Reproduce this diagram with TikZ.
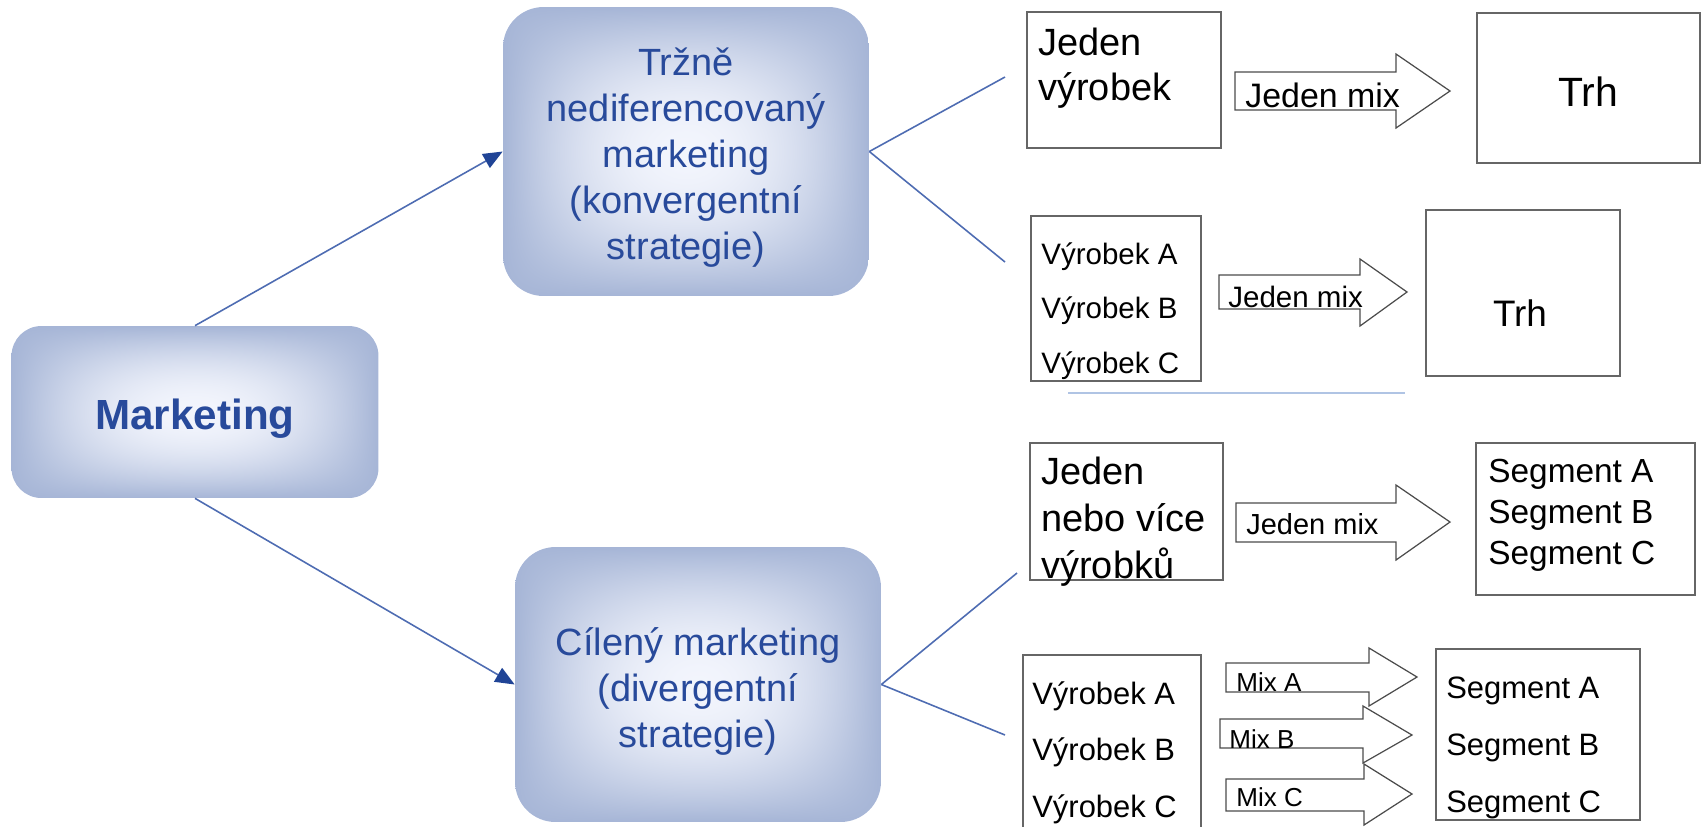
\documentclass[tikz,border=0pt]{standalone}
\usepackage{fontspec}
\setmainfont{Liberation Sans}
\usetikzlibrary{arrows.meta,fit}

\definecolor{mkblue}{RGB}{40,74,155}
\definecolor{mkline}{RGB}{78,108,178}
\definecolor{mkhead}{RGB}{32,68,150}
\definecolor{mkfaint}{RGB}{176,196,228}

% light in the middle, blue towards the edges
\pgfdeclarefunctionalshading{boxglow}{\pgfpointorigin}{\pgfpoint{100bp}{100bp}}{}{
  50 sub abs 25 div dup 1 gt {pop 1} if dup mul 1 exch sub
  exch 50 sub abs 25 div dup 1 gt {pop 1} if dup mul 1 exch sub
  mul 1 exch sub
  dup dup
  -0.30 mul 0.95 add
  exch -0.25 mul 0.96 add
  3 -1 roll -0.15 mul 0.99 add
}

\tikzset{
  mkbox/.style={shade, shading=boxglow, rounded corners=#1, inner sep=0pt},
  mktext/.style={text=mkblue, align=center, inner sep=0pt},
  mkarrow/.style={draw=mkline, line width=0.9pt,
    -{Triangle[length=11pt,width=9pt,color=mkhead]}},
  mkthin/.style={draw=mkline, line width=0.9pt},
  prodbox/.style={draw=black!60, line width=0.8pt, inner sep=0pt},
  prodtext/.style={anchor=base west, inner sep=0pt, align=left},
  mixarrow/.style={draw=black!70, line width=0.7pt, fill=white},
}

\begin{document}
\begin{tikzpicture}[x=0.02cm, y=-0.02cm]
  \useasboundingbox (0,0) rectangle (1703,826);

  % left part
  \node [mkbox=17pt, minimum width=7.34cm, minimum height=3.44cm] (mkt)
    at (195,412) {};
  \node [mktext, font=\fontsize{24}{28}\selectfont\bfseries] (mktt)
    at ([yshift=-3.7pt]mkt.center) {Marketing};
  \node [mkbox=23pt, minimum width=7.32cm, minimum height=5.78cm] (trz)
    at (686,151.5) {};
  \node [mktext, font=\fontsize{21.6}{26.2}\selectfont] (trzt)
    at ([yshift=-3.7pt]trz.center)
    {Tržně\\nediferencovaný\\marketing\\(konvergentní\\strategie)};
  \node [mkbox=23pt, minimum width=7.32cm, minimum height=5.5cm] (cil)
    at (698,684.5) {};
  \node [mktext, font=\fontsize{21.6}{26.2}\selectfont] (cilt)
    at ([yshift=-3.7pt]cil.center)
    {Cílený marketing\\(divergentní\\strategie)};

  \draw [mkarrow] (mkt.north) -- (trz.west);
  \draw [mkarrow] (mkt.south) -- (cil.west);

  \coordinate (u1) at (1005,77);
  \coordinate (u2) at (1005,262);
  \coordinate (u3) at (1017,573);
  \coordinate (u4) at (1005,735);
  \draw [mkthin] (trz.east) -- (u1);
  \draw [mkthin] (trz.east) -- (u2);
  \draw [mkthin] (cil.east) -- (u3);
  \draw [mkthin] (cil.east) -- (u4);

  % one product, one mix
  \node [prodbox, fit={(1027,12) (1221,148)}] (jeden) {};
  \node [prodtext, font=\fontsize{21.6}{25.6}\selectfont] (jedent)
    at (1038,100) {Jeden\\výrobek};
  \draw [mixarrow] (1235,72) -- (1396,72) -- (1396,54) -- (1450,91)
    -- (1396,128) -- (1396,110) -- (1235,110) -- cycle;
  \node [prodtext, font=\fontsize{19.3}{22}\selectfont] (mix1)
    at (1245,107) {Jeden mix};
  \node [prodbox, fit={(1477,13) (1700,163)}] (trh1) {};
  \node [font=\fontsize{23.3}{27}\selectfont] (trh1t) at (1588,92) {Trh};

  % several products, one mix
  \node [prodbox, fit={(1031,216) (1201,381)}] (vyr1) {};
  \node [prodtext, font=\fontsize{16.8}{31}\selectfont] (vyr1t)
    at (1041,373) {Výrobek A\\Výrobek B\\Výrobek C};
  \draw [mixarrow] (1219,275) -- (1360,275) -- (1360,259) -- (1407,292)
    -- (1360,326) -- (1360,309) -- (1219,309) -- cycle;
  \node [prodtext, font=\fontsize{16.8}{20}\selectfont] (mix2)
    at (1228,307) {Jeden mix};
  \node [prodbox, fit={(1426,210) (1620,376)}] (trh2) {};
  \node [font=\fontsize{21}{25}\selectfont] (trh2t) at (1520,313) {Trh};
  \draw [draw=mkfaint, line width=1.3pt] (1068,393) -- (1405,393);

  % one mix, several segments
  \node [prodbox, fit={(1030,443) (1223,580)}] (jeden2) {};
  \node [prodtext, font=\fontsize{21.6}{26.5}\selectfont] (jeden2t)
    at (1041,578) {Jeden\\nebo více\\výrobků};
  \draw [mixarrow] (1236,503) -- (1396,503) -- (1396,485) -- (1450,522)
    -- (1396,560) -- (1396,542) -- (1236,542) -- cycle;
  \node [prodtext, font=\fontsize{16.5}{20}\selectfont] (mix3)
    at (1246,534) {Jeden mix};
  \node [prodbox, fit={(1476,443) (1695,595)}] (seg1) {};
  \node [prodtext, font=\fontsize{19}{23.3}\selectfont] (seg1t)
    at (1488,564) {Segment A\\Segment B\\Segment C};

  % a mix for each segment
  \node [prodbox, fit={(1023,655) (1201,840)}] (vyr2) {};
  \node [prodtext, font=\fontsize{17.6}{31.9}\selectfont] (vyr2t)
    at (1032,817) {Výrobek A\\Výrobek B\\Výrobek C};
  \draw [mixarrow] (1226,663) -- (1369,663) -- (1369,648) -- (1417,677)
    -- (1369,706) -- (1369,692) -- (1226,692) -- cycle;
  \draw [mixarrow] (1220,719) -- (1363,719) -- (1363,706) -- (1412,735)
    -- (1363,763) -- (1363,748) -- (1220,748) -- cycle;
  \draw [mixarrow] (1226,779) -- (1364,779) -- (1364,764) -- (1412,794)
    -- (1364,825) -- (1364,811) -- (1226,811) -- cycle;
  \node [prodtext, font=\fontsize{14.8}{18}\selectfont] (mixa)
    at (1236,691) {Mix A};
  \node [prodtext, font=\fontsize{14.8}{18}\selectfont] (mixb)
    at (1229,748) {Mix B};
  \node [prodtext, font=\fontsize{14.8}{18}\selectfont] (mixc)
    at (1236,806) {Mix C};
  \node [prodbox, fit={(1436,649) (1640,820)}] (seg2) {};
  \node [prodtext, font=\fontsize{17.6}{32.4}\selectfont] (seg2t)
    at (1446,812) {Segment A\\Segment B\\Segment C};
\end{tikzpicture}
\end{document}
